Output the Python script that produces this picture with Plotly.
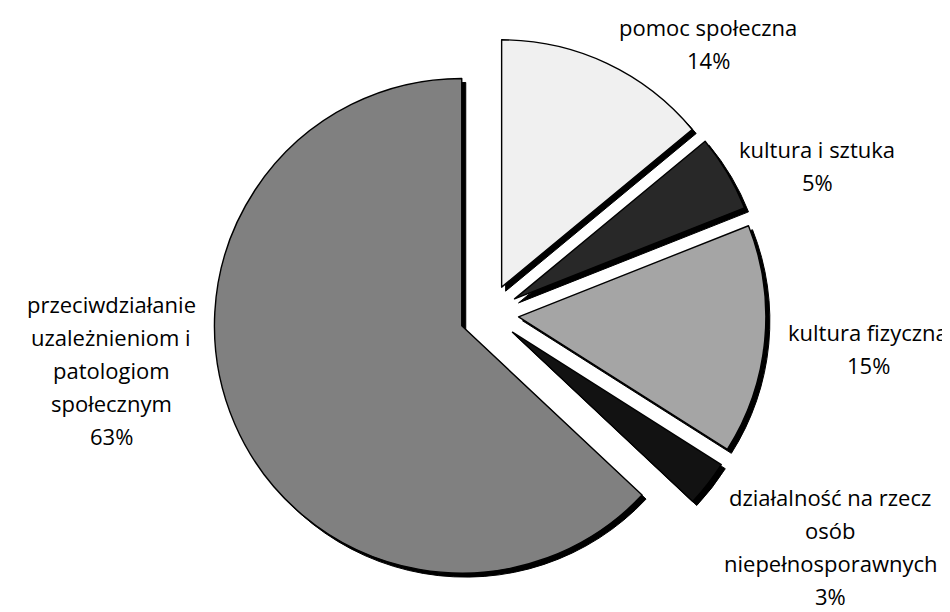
import plotly.graph_objects as go

categories = [
    "pomoc społeczna",
    "kultura i sztuka",
    "kultura fizyczna",
    "działalność na rzecz osób niepełnosporawnych",
    "przeciwdziałanie uzależnieniom i patologiom społecznym",
]
values = [14, 5, 15, 3, 63]
label_lines = [
    ["pomoc społeczna", "14%"],
    ["kultura i sztuka", "5%"],
    ["kultura fizyczna", "15%"],
    ["działalność na rzecz", "osób", "niepełnosporawnych", "3%"],
    ["przeciwdziałanie", "uzależnieniom i", "patologiom", "społecznym", "63%"],
]

# styling / layout (not data)
colors = ["#f0f0f0", "#282828", "#a5a5a5", "#121212", "#808080"]
W, H = 950, 612
label_anchor_px = [(700, 28), (809, 150), (860, 333), (822, 498), (103, 305)]
label_shift = -9
line_step = 33
pull = 0.12
cx, cy, half = 481, 306, 277
shadow_dx, shadow_dy = 4, 4

def dom(dx=0, dy=0):
    x0 = (cx + dx - 300) / W
    x1 = (cx + dx + 300) / W
    yc = 1 - (cy + dy) / H
    hh = half / H
    return dict(x=[x0, x1], y=[yc - hh, yc + hh])

fig = go.Figure()
fig.add_trace(go.Pie(
    labels=categories, values=values, sort=False, direction="clockwise",
    rotation=0, pull=[pull] * len(values), textinfo="none", hoverinfo="skip",
    marker=dict(colors=["#000000"] * len(values), line=dict(color="#000000", width=1)),
    domain=dom(shadow_dx, shadow_dy), showlegend=False,
))
fig.add_trace(go.Pie(
    labels=categories, values=values, sort=False, direction="clockwise",
    rotation=0, pull=[pull] * len(values), textinfo="none",
    marker=dict(colors=colors, line=dict(color="#000000", width=1.4)),
    domain=dom(), showlegend=False,
))

annotations = []
for lines, (ax, ay) in zip(label_lines, label_anchor_px):
    for i, t in enumerate(lines):
        annotations.append(dict(
            text=t, xref="paper", yref="paper",
            x=ax / W, y=1 - (ay + label_shift + i * line_step) / H,
            xanchor="center", yanchor="middle", showarrow=False,
            font=dict(family="Open Sans", size=22, color="#000000"),
        ))

fig.update_layout(
    width=W, height=H, margin=dict(l=0, r=0, t=0, b=0),
    paper_bgcolor="white", plot_bgcolor="white",
    annotations=annotations,
)
fig.write_html("out.html")
